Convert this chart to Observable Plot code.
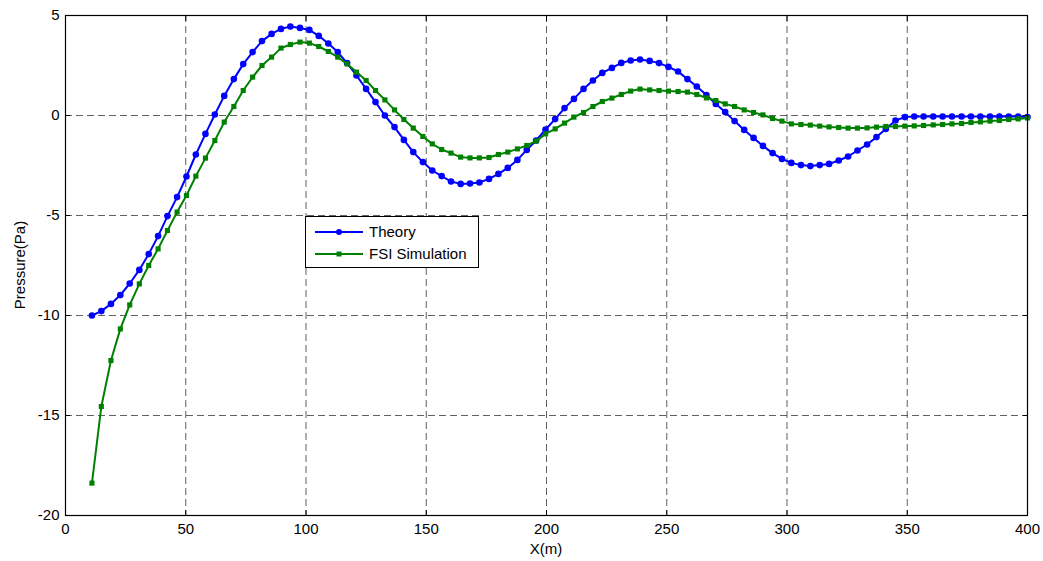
<!DOCTYPE html>
<html><head><meta charset="utf-8">
<script src="https://cdn.jsdelivr.net/npm/d3@7"></script>
<script src="https://cdn.jsdelivr.net/npm/@observablehq/plot@0.6"></script>
<style>
body{margin:0;background:#fff;font-family:"Liberation Sans",Arial,sans-serif;}
#wrap{position:relative;width:1043px;height:561px;overflow:hidden;}
#legend{position:absolute;left:305px;top:216px;width:172px;height:50px;border:1px solid #000;background:#fff;font-size:15px;color:#000;}
.lg-row{position:absolute;left:0;height:20px;width:170px;}
.lg-row svg{position:absolute;left:9px;top:0;}
.lg-row span{position:absolute;left:63px;top:1px;white-space:nowrap;}
.axlab{position:absolute;font-size:15px;color:#000;white-space:nowrap;}
</style></head><body><div id="wrap"></div>
<script>
const xValues = [
11.0,14.9,18.9,22.8,26.7,30.7,34.6,38.5,42.4,46.4,
50.3,54.2,58.2,62.1,66.0,70.0,73.9,77.8,81.7,85.7,
89.6,93.5,97.5,101.4,105.3,109.3,113.2,117.1,121.0,125.0,
128.9,132.8,136.8,140.7,144.6,148.6,152.5,156.4,160.3,164.3,
168.2,172.1,176.1,180.0,183.9,187.9,191.8,195.7,199.6,203.6,
207.5,211.4,215.4,219.3,223.2,227.2,231.1,235.0,238.9,242.9,
246.8,250.7,254.7,258.6,262.5,266.5,270.4,274.3,278.2,282.2,
286.1,290.0,294.0,297.9,301.8,305.8,309.7,313.6,317.5,321.5,
325.4,329.3,333.3,337.2,341.1,345.1,349.0,352.9,356.8,360.8,
364.7,368.6,372.6,376.5,380.4,384.4,388.3,392.2,396.1,400.0];
const theory = [
-10.0,-9.78,-9.42,-8.98,-8.4,-7.72,-6.93,-6.03,-5.03,-4.08,
-3.05,-1.95,-0.92,0.05,0.98,1.82,2.57,3.17,3.72,4.08,
4.33,4.45,4.38,4.28,3.98,3.6,3.17,2.62,2.0,1.33,
0.67,0.0,-0.58,-1.22,-1.83,-2.33,-2.75,-3.03,-3.3,-3.42,
-3.4,-3.35,-3.17,-2.92,-2.62,-2.22,-1.72,-1.25,-0.7,-0.18,
0.37,0.83,1.33,1.75,2.13,2.38,2.63,2.75,2.8,2.73,
2.62,2.43,2.2,1.82,1.45,1.02,0.58,0.17,-0.28,-0.72,
-1.12,-1.52,-1.88,-2.17,-2.37,-2.48,-2.53,-2.48,-2.42,-2.25,
-2.05,-1.75,-1.45,-1.08,-0.67,-0.25,-0.08,-0.05,-0.05,-0.05,
-0.05,-0.05,-0.05,-0.05,-0.05,-0.05,-0.05,-0.05,-0.05,-0.08];
const fsi = [
-18.38,-14.55,-12.25,-10.67,-9.47,-8.42,-7.5,-6.67,-5.75,-4.83,
-4.0,-3.03,-2.13,-1.25,-0.33,0.45,1.25,1.92,2.5,2.92,
3.37,3.55,3.67,3.62,3.45,3.2,2.92,2.58,2.17,1.75,
1.25,0.78,0.28,-0.2,-0.63,-1.05,-1.42,-1.7,-1.88,-2.08,
-2.12,-2.12,-2.1,-1.95,-1.83,-1.67,-1.5,-1.28,-0.92,-0.67,
-0.38,-0.08,0.15,0.45,0.7,0.87,1.05,1.22,1.32,1.28,
1.25,1.22,1.2,1.17,1.05,0.88,0.75,0.58,0.45,0.28,
0.15,0.03,-0.15,-0.28,-0.42,-0.45,-0.48,-0.53,-0.57,-0.6,
-0.63,-0.63,-0.62,-0.58,-0.55,-0.55,-0.53,-0.52,-0.5,-0.47,
-0.45,-0.42,-0.4,-0.35,-0.32,-0.28,-0.25,-0.2,-0.17,-0.12];
const xTicks = [0,50,100,150,200,250,300,350,400];
const yTicks = [5,0,-5,-10,-15,-20];
const seriesNames = ["Theory","FSI Simulation"];
const seriesColors = ["#0000ff","#008000"];
const xLabel = "X(m)";
const yLabel = "Pressure(Pa)";

const theoryData = xValues.map((x,i)=>({x, y: theory[i]}));
const fsiData = xValues.map((x,i)=>({x, y: fsi[i]}));
const gridStyle = {stroke:"#444", strokeOpacity:0.85, strokeDasharray:"7,4", strokeWidth:1};
const fmt = d => String(d);

const chart = Plot.plot({
  width:1043, height:561,
  marginLeft:65, marginRight:16, marginTop:15, marginBottom:46,
  style:{fontFamily:"'Liberation Sans', Arial, sans-serif", fontSize:"15px", color:"#000", background:"#fff"},
  x:{domain:[0,400]},
  y:{domain:[-20,5]},
  marks:[
    Plot.gridX(xTicks, gridStyle),
    Plot.gridY(yTicks, gridStyle),
    Plot.line(theoryData, {x:"x", y:"y", stroke:seriesColors[0], strokeWidth:2}),
    Plot.dot(theoryData, {x:"x", y:"y", r:3.3, fill:seriesColors[0], stroke:"none"}),
    Plot.line(fsiData, {x:"x", y:"y", stroke:seriesColors[1], strokeWidth:2}),
    Plot.dot(fsiData, {x:"x", y:"y", symbol:"square", r:2.9, fill:seriesColors[1], stroke:"none"}),
    Plot.frame({stroke:"#000", strokeWidth:1.2}),
    Plot.axisX(xTicks, {anchor:"bottom", tickSize:0, tickPadding:8, tickFormat:fmt, label:null, fontSize:15}),
    Plot.axisX(xTicks, {anchor:"bottom", tickSize:-5, tickFormat:()=>"", label:null}),
    Plot.axisX(xTicks, {anchor:"top", tickSize:-5, tickFormat:()=>"", label:null}),
    Plot.axisY(yTicks, {anchor:"left", tickSize:0, tickPadding:6, tickFormat:fmt, label:null, fontSize:15}),
    Plot.axisY(yTicks, {anchor:"left", tickSize:-5, tickFormat:()=>"", label:null}),
    Plot.axisY(yTicks, {anchor:"right", tickSize:-5, tickFormat:()=>"", label:null})
  ]
});
const wrap = document.getElementById("wrap");
wrap.appendChild(chart);

// axis titles
const xl = document.createElement("div");
xl.className = "axlab"; xl.textContent = xLabel;
xl.style.left = "546px"; xl.style.top = "540px"; xl.style.transform = "translateX(-50%)";
wrap.appendChild(xl);
const yl = document.createElement("div");
yl.className = "axlab"; yl.textContent = yLabel;
yl.style.left = "19px"; yl.style.top = "265px"; yl.style.transform = "translate(-50%,-50%) rotate(-90deg)";
wrap.appendChild(yl);

// legend
const lg = document.createElement("div");
lg.id = "legend";
seriesNames.forEach((name,i)=>{
  const row = document.createElement("div");
  row.className = "lg-row";
  row.style.top = (5 + i*22) + "px";
  const marker = i===0
    ? `<circle cx="24" cy="10" r="3" fill="${seriesColors[i]}"/>`
    : `<rect x="21.5" y="7.5" width="5" height="5" fill="${seriesColors[i]}"/>`;
  row.innerHTML = `<svg width="50" height="20"><line x1="0" x2="48" y1="10" y2="10" stroke="${seriesColors[i]}" stroke-width="2"/>${marker}</svg><span>${name}</span>`;
  lg.appendChild(row);
});
wrap.appendChild(lg);
</script>
</body></html>
